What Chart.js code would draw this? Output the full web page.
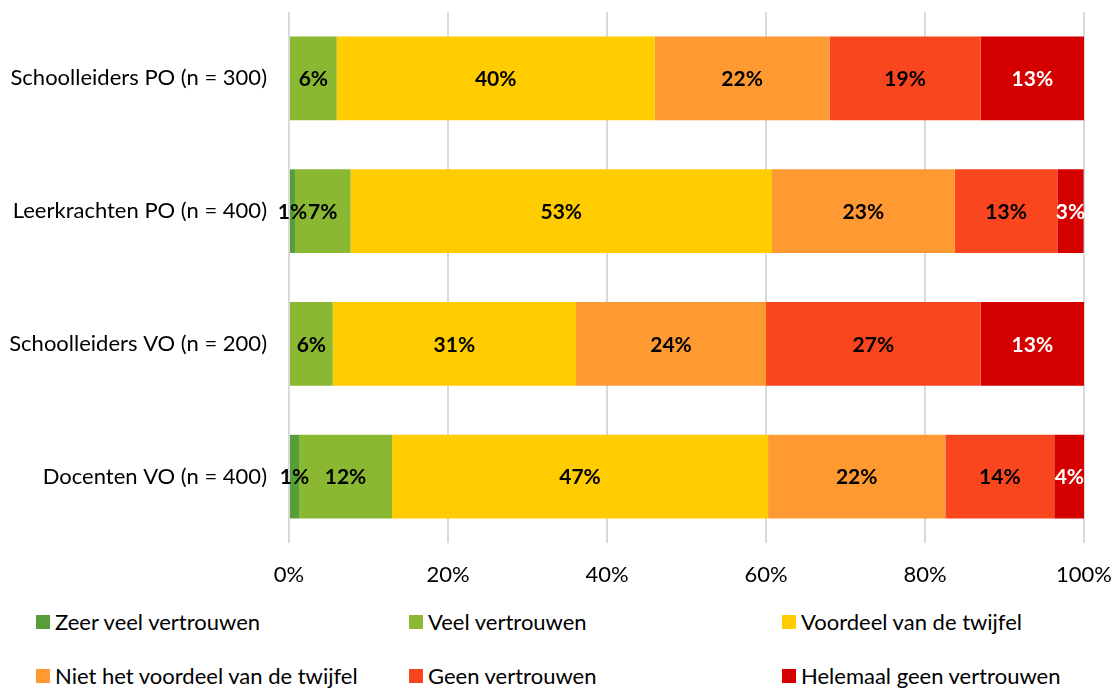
<!DOCTYPE html>
<html>
<head>
<meta charset="utf-8">
<script src="https://cdn.jsdelivr.net/npm/chart.js@4"></script>
<style>
  body { margin: 0; background: #fff; font-family: Lato, "Open Sans", sans-serif; }
  #wrap { position: relative; width: 1116px; height: 595px; }
  #legend { position: relative; width: 1116px; height: 93px; }
  .item { position: absolute; display: flex; align-items: center; font-size: 22px; line-height: 26px; color: #000; white-space: nowrap; }
  .box { width: 14px; height: 14px; margin-right: 5px; }
</style>
</head>
<body>
<div id="wrap"><canvas id="chart"></canvas></div>
<div id="legend"></div>
<script>
// categories and values (percent per group)
const categories = ["Schoolleiders PO (n = 300)", "Leerkrachten PO (n = 400)", "Schoolleiders VO (n = 200)", "Docenten VO (n = 400)"];
const seriesNames = ["Zeer veel vertrouwen", "Veel vertrouwen", "Voordeel van de twijfel", "Niet het voordeel van de twijfel", "Geen vertrouwen", "Helemaal geen vertrouwen"];
const seriesColors = ["#559E39", "#8AB833", "#FFCC00", "#FF9A33", "#F9461E", "#D40000"];
const labelColors = ["#000", "#000", "#000", "#000", "#000", "#fff"];

const zeerVeel = [0, 0.75, 0, 1.26];
const veel = [6.0, 7.0, 5.5, 11.7];
const voordeel = [40.0, 53.0, 30.6, 47.3];
const niet = [22.0, 23.0, 23.9, 22.3];
const geen = [19.0, 12.9, 27.0, 13.7];
const helemaal = [13.0, 3.3, 13.0, 3.8];

const xTicks = [0, 20, 40, 60, 80, 100];

const allSeries = [zeerVeel, veel, voordeel, niet, geen, helemaal];

// draw the % labels in the middle of each segment
const segmentLabels = {
  id: "segmentLabels",
  afterDatasetsDraw(chart) {
    const ctx = chart.ctx;
    ctx.save();
    ctx.font = "bold 21px Lato, 'Open Sans', sans-serif";
    ctx.textAlign = "center";
    ctx.textBaseline = "middle";
    chart.data.datasets.forEach((ds, i) => {
      const meta = chart.getDatasetMeta(i);
      meta.data.forEach((bar, j) => {
        const v = ds.data[j];
        if (!v) return;
        ctx.fillStyle = labelColors[i];
        ctx.fillText(Math.round(v) + "%", (bar.x + bar.base) / 2, bar.y + 1);
      });
    });
    ctx.restore();
  }
};

const ctx = document.getElementById("chart").getContext("2d");
new Chart(ctx, {
  type: "bar",
  data: {
    labels: categories,
    datasets: allSeries.map((d, i) => ({
      label: seriesNames[i],
      data: d,
      backgroundColor: seriesColors[i],
      borderWidth: 0,
      categoryPercentage: 1,
      barPercentage: 0.63,
    })),
  },
  options: {
    indexAxis: "y",
    responsive: true,
    maintainAspectRatio: false,
    animation: false,
    layout: { padding: { top: 12, right: 32, left: 0, bottom: 0 } },
    plugins: {
      legend: { display: false },
      tooltip: { enabled: false },
    },
    scales: {
      x: {
        stacked: true,
        min: 0,
        max: 100,
        afterBuildTicks: (s) => { s.ticks = xTicks.map(v => ({ value: v })); },
        afterFit: (s) => { s.height = 52; s.paddingLeft = 0; s.paddingRight = 0; },
        grid: { color: "#d9d9d9", lineWidth: 2, drawTicks: false },
        border: { display: false },
        ticks: {
          padding: 19,
          color: "#000",
          font: { family: "Lato, 'Open Sans', sans-serif", size: 22 },
          callback: (v) => v + "%",
        },
      },
      y: {
        stacked: true,
        afterFit: (s) => { s.width = 289; s.paddingTop = 0; s.paddingBottom = 0; },
        grid: { display: false },
        border: { display: false },
        ticks: {
          padding: 14,
          color: "#000",
          font: { family: "Lato, 'Open Sans', sans-serif", size: 22 },
        },
      },
    },
  },
  plugins: [segmentLabels],
});

// legend in three columns, two rows
const legendEl = document.getElementById("legend");
const colX = [36, 409, 782];
const rowY = [14, 68];
seriesNames.forEach((name, i) => {
  const item = document.createElement("div");
  item.className = "item";
  item.style.left = colX[i % 3] + "px";
  item.style.top = rowY[Math.floor(i / 3)] + "px";
  item.innerHTML = `<span class="box" style="background:${seriesColors[i]}"></span>${name}`;
  legendEl.appendChild(item);
});
</script>
</body>
</html>
